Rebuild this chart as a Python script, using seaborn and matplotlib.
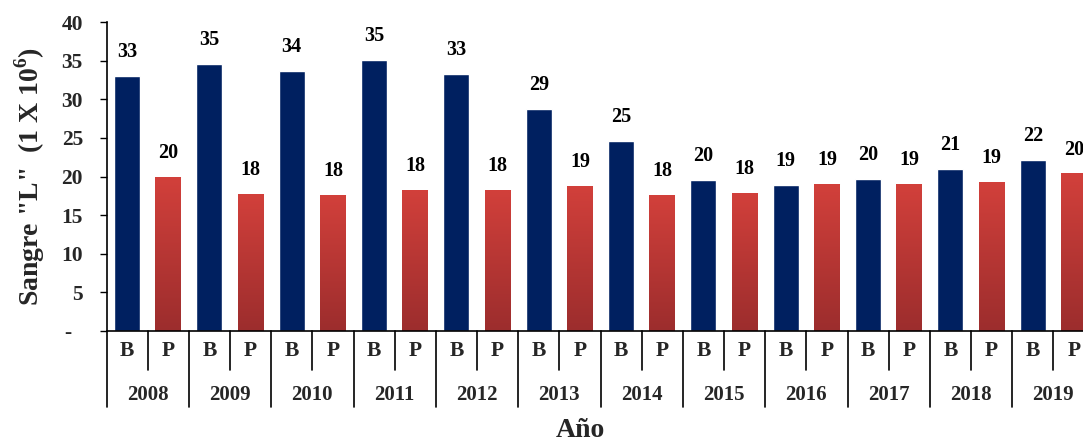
import numpy as np
import pandas as pd
import matplotlib
matplotlib.use("Agg")
import matplotlib.pyplot as plt
import seaborn as sns
from matplotlib.colors import LinearSegmentedColormap, to_rgba

# ---- data ----
years = ["2008", "2009", "2010", "2011", "2012", "2013",
         "2014", "2015", "2016", "2017", "2018", "2019"]
b_values = [33.0, 34.6, 33.7, 35.1, 33.3, 28.7, 24.6, 19.6, 18.9, 19.7, 21.0, 22.1]
p_values = [19.9, 17.7, 17.6, 18.3, 18.3, 18.8, 17.6, 17.9, 19.0, 19.0, 19.3, 20.4]
types = ["B", "P"]
y_ticks = [0, 5, 10, 15, 20, 25, 30, 35, 40]
y_tick_labels = ["-  ", "5", "10", "15", "20", "25", "30", "35", "40"]

rows = []
for yr, b, p in zip(years, b_values, p_values):
    rows.append({"slot": f"{yr} B", "tipo": "B", "valor": b})
    rows.append({"slot": f"{yr} P", "tipo": "P", "valor": p})
df = pd.DataFrame(rows)
order = list(df["slot"])

sns.set_theme(style="white")
plt.rcParams["font.family"] = ["Liberation Serif", "DejaVu Serif"]
plt.rcParams["font.weight"] = "bold"
plt.rcParams["mathtext.fontset"] = "custom"
plt.rcParams["mathtext.rm"] = "Liberation Serif:bold"
plt.rcParams["mathtext.bf"] = "Liberation Serif:bold"

NAVY = "#002060"
RED_TOP = "#D2403B"
RED_BOT = "#9C2D2D"

fig = plt.figure(figsize=(10.83, 4.41), dpi=100)
ax = fig.add_axes([106.5 / 1083, 110 / 441, 988 / 1083, 309 / 441])

sns.barplot(data=df, x="slot", y="valor", hue="tipo", order=order,
            hue_order=types, palette={"B": NAVY, "P": RED_TOP},
            dodge=False, width=0.63, legend=False, ax=ax, saturation=1)

# gradient on red bars
cmap = LinearSegmentedColormap.from_list("redgrad", [RED_BOT, RED_TOP])
grad = np.linspace(0, 1, 256).reshape(-1, 1)
red_rgba = to_rgba(RED_TOP)
for patch in list(ax.patches):
    fc = patch.get_facecolor()
    if np.allclose(fc[:3], red_rgba[:3], atol=0.02) and patch.get_height() > 0:
        x0, w, h = patch.get_x(), patch.get_width(), patch.get_height()
        im = ax.imshow(grad, cmap=cmap, origin="lower", aspect="auto",
                       extent=[x0, x0 + w, 0, h], zorder=patch.get_zorder() + 0.1)
        im.set_clip_path(patch)

# value labels
for cont in ax.containers:
    ax.bar_label(cont, fmt="%.0f", padding=10, fontsize=14.5,
                 fontweight="bold", color="black")

ax.set_xlim(-0.5, len(order) - 0.5)
ax.set_ylim(0, 40)
ax.set_yticks(y_ticks)
ax.set_yticklabels(y_tick_labels, fontsize=15.5, fontweight="bold")
ax.tick_params(axis="y", direction="out", length=5, width=1, color="black",
               left=True, pad=12)
ax.set_xticks([])
ax.set_xlabel("")
for side in ["top", "right"]:
    ax.spines[side].set_visible(False)
for side in ["left", "bottom"]:
    ax.spines[side].set_color("black")
    ax.spines[side].set_linewidth(1.2)

ax.set_ylabel('Sangre "L"  (1 X 10$^{\\mathbf{6}}$)', fontsize=20,
              fontweight="bold")
ax.yaxis.set_label_coords(-0.060, 0.5)

# two-level category axis
tr = ax.get_xaxis_transform()
for k in range(len(order) + 1):
    xk = k - 0.5
    y_end = -0.246 if k % 2 == 0 else -0.126
    ax.plot([xk, xk], [0, y_end], transform=tr, color="black", lw=1.2,
            clip_on=False)
for i, s in enumerate(order):
    ax.text(i, -0.064, s.split()[1], transform=tr, ha="center", va="center",
            fontsize=15.5, fontweight="bold")
for j, yr in enumerate(years):
    ax.text(2 * j + 0.5, -0.207, yr, transform=tr, ha="center", va="center",
            fontsize=15, fontweight="bold")
ax.text(0.48, -0.322, "Año", transform=ax.transAxes, ha="center",
        va="center", fontsize=20, fontweight="bold")

fig.savefig("out.png", dpi=100)
